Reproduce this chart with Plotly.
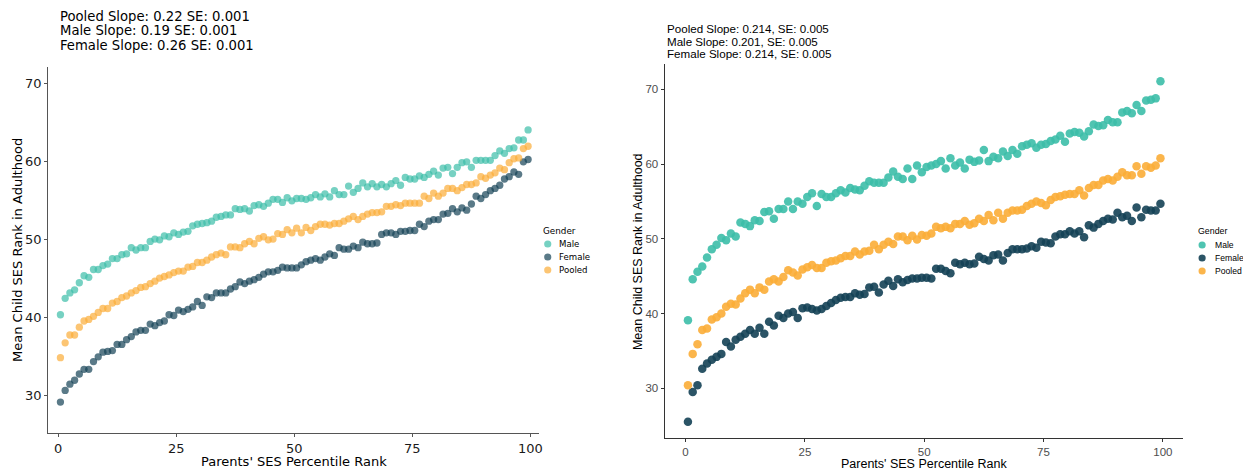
import plotly.graph_objects as go

W, H = 1243, 473


def fx(p):
    return p / W


def fy(p):
    return 1 - p / H


# ---------------- data ----------------
percentile_rank = [r + 0.5 for r in range(100)]

left_male = [
    40.3, 42.4, 43.1, 43.5, 44.4, 45.3, 45.1, 46.1, 46.1, 46.6,
    46.8, 47.5, 47.5, 48.0, 48.1, 48.9, 48.6, 48.9, 48.9, 49.7,
    50.0, 49.9, 50.4, 50.3, 50.8, 50.6, 50.9, 51.0, 51.7, 51.9,
    52.0, 52.1, 52.3, 52.8, 52.9, 53.1, 53.1, 53.9, 53.8, 53.9,
    53.6, 54.3, 54.4, 54.2, 54.6, 55.1, 55.1, 54.7, 55.3, 54.9,
    55.2, 55.2, 55.1, 55.3, 55.7, 55.4, 55.8, 55.4, 56.2, 55.7,
    55.7, 56.8, 56.0, 56.5, 57.2, 56.7, 57.1, 56.7, 57.0, 56.7,
    57.1, 57.5, 56.9, 57.9, 57.7, 57.7, 58.1, 57.9, 58.3, 58.7,
    58.2, 59.1, 59.2, 58.4, 59.2, 59.8, 59.9, 59.2, 60.1, 60.1,
    60.1, 60.1, 60.7, 61.3, 61.0, 61.6, 61.7, 62.7, 62.7, 64.0,
]
left_female = [
    29.1, 30.6, 31.4, 31.9, 32.7, 33.3, 33.3, 34.3, 34.9, 35.5,
    35.6, 35.7, 36.5, 36.5, 37.1, 37.5, 38.1, 38.3, 38.3, 39.1,
    38.9, 39.3, 39.5, 40.3, 40.2, 40.9, 40.7, 41.0, 41.3, 42.0,
    41.5, 42.6, 42.5, 43.1, 43.1, 43.1, 43.6, 43.9, 44.5, 44.3,
    44.6, 44.8, 45.1, 45.5, 45.8, 45.8, 46.0, 46.4, 46.3, 46.3,
    46.3, 46.7, 47.1, 47.3, 47.5, 47.3, 47.7, 48.1, 47.9, 48.9,
    48.7, 48.7, 49.1, 48.9, 49.6, 49.4, 49.4, 49.5, 50.6, 50.8,
    50.8, 50.6, 51.0, 51.0, 51.1, 51.1, 51.9, 51.6, 52.3, 52.5,
    52.5, 53.2, 53.3, 53.9, 53.5, 54.0, 53.7, 54.5, 55.5, 55.2,
    55.7, 56.2, 56.5, 56.9, 57.7, 58.0, 58.6, 58.3, 59.9, 60.2,
]
left_pooled = [
    34.8, 36.7, 37.7, 37.7, 38.7, 39.5, 39.7, 40.1, 40.6, 41.1,
    41.1, 41.8, 42.0, 42.5, 42.7, 43.1, 43.4, 43.8, 43.9, 44.3,
    44.6, 45.0, 45.2, 45.4, 45.7, 45.9, 45.9, 46.4, 46.5, 47.0,
    47.0, 47.3, 47.7, 48.0, 48.2, 48.0, 49.0, 49.0, 48.9, 49.4,
    49.7, 49.4, 50.1, 50.3, 49.9, 50.0, 50.7, 50.6, 51.2, 50.8,
    51.4, 50.8, 51.5, 51.1, 51.6, 51.9, 51.9, 51.8, 52.0, 52.0,
    52.3, 52.6, 52.9, 52.5, 52.9, 53.2, 53.4, 53.4, 53.5, 54.2,
    54.2, 54.4, 54.3, 54.6, 54.6, 54.6, 54.6, 55.5, 55.2, 55.9,
    55.5, 55.9, 56.5, 56.5, 56.2, 56.6, 57.0, 57.0, 57.2, 58.0,
    57.8, 58.2, 58.5, 59.1, 58.9, 59.8, 60.3, 60.4, 61.6, 61.9,
]

right_male = [
    39.1, 44.6, 45.6, 46.3, 47.5, 48.6, 49.2, 50.1, 49.8, 50.7,
    50.3, 52.2, 52.0, 51.7, 52.5, 52.4, 53.6, 53.7, 52.7, 54.0,
    54.0, 55.0, 54.0, 55.0, 54.7, 55.6, 56.1, 54.4, 56.0, 55.6,
    55.6, 56.1, 56.5, 56.2, 56.8, 56.6, 56.5, 57.1, 57.7, 57.5,
    57.5, 57.5, 58.2, 59.0, 58.3, 58.0, 59.4, 58.0, 59.8, 58.9,
    59.6, 59.8, 60.0, 60.4, 59.4, 60.8, 59.8, 60.2, 59.4, 60.6,
    60.3, 60.5, 61.9, 60.4, 61.0, 60.8, 61.7, 61.1, 61.9, 61.4,
    62.4, 62.6, 62.8, 62.2, 62.6, 62.7, 63.1, 63.3, 63.8, 63.0,
    64.1, 64.3, 64.2, 63.7, 64.4, 65.3, 65.1, 65.2, 65.9, 65.6,
    65.6, 66.9, 67.1, 66.8, 67.9, 67.1, 68.5, 68.6, 68.8, 71.1,
]
right_female = [
    25.5, 29.5, 30.4, 32.6, 33.3, 33.8, 34.2, 34.6, 36.2, 35.6,
    36.5, 36.9, 37.3, 37.8, 37.3, 38.1, 37.3, 38.9, 38.4, 39.7,
    39.4, 40.0, 40.2, 39.4, 40.7, 40.8, 40.6, 40.4, 40.6, 41.0,
    41.4, 41.8, 42.1, 42.2, 42.2, 42.7, 42.5, 42.6, 43.5, 43.6,
    42.8, 43.9, 44.4, 43.7, 44.6, 44.2, 44.5, 44.7, 44.7, 44.8,
    44.8, 44.7, 46.0, 46.0, 45.7, 45.4, 46.8, 46.6, 46.8, 46.6,
    46.7, 47.6, 47.3, 47.1, 47.8, 47.9, 47.1, 48.1, 48.6, 48.6,
    48.6, 48.7, 49.0, 48.8, 49.6, 49.5, 49.4, 50.3, 50.6, 50.6,
    51.0, 50.7, 51.0, 50.2, 51.8, 51.5, 52.0, 52.4, 52.7, 52.6,
    53.5, 52.9, 53.1, 52.4, 54.2, 52.9, 53.9, 53.8, 53.8, 54.7,
]
right_pooled = [
    30.4, 34.6, 35.9, 37.8, 38.0, 39.2, 39.5, 40.0, 40.9, 41.3,
    41.2, 42.0, 42.7, 43.2, 42.7, 43.5, 43.2, 44.3, 44.6, 44.3,
    44.9, 45.8, 45.5, 45.1, 45.9, 46.2, 46.5, 46.1, 46.1, 46.8,
    47.0, 47.1, 47.4, 47.7, 47.7, 48.3, 47.9, 48.3, 48.4, 49.2,
    48.6, 49.2, 49.6, 49.3, 50.3, 50.3, 49.8, 50.4, 49.9, 50.5,
    50.4, 50.7, 51.6, 51.4, 51.6, 51.4, 52.0, 52.0, 52.4, 51.9,
    52.1, 52.7, 52.4, 53.2, 52.5, 53.5, 52.7, 53.5, 53.8, 53.8,
    53.9, 54.4, 54.7, 55.0, 54.8, 54.5, 55.2, 55.6, 55.7, 55.9,
    56.0, 56.0, 56.5, 55.8, 56.8, 57.2, 57.2, 57.8, 58.0, 57.8,
    58.3, 58.9, 58.5, 58.5, 59.7, 58.7, 59.7, 59.5, 59.8, 60.8,
]

groups = ["Male", "Female", "Pooled"]
base_rgb = {"Male": (60, 190, 168), "Female": (20, 65, 85), "Pooled": (251, 173, 55)}

left_titles = ["Pooled Slope: 0.22 SE: 0.001",
               "Male Slope: 0.19 SE: 0.001",
               "Female Slope: 0.26 SE: 0.001"]
right_titles = ["Pooled Slope: 0.214, SE: 0.005",
                "Male Slope: 0.201, SE: 0.005",
                "Female Slope: 0.214, SE: 0.005"]

x_title = "Parents' SES Percentile Rank"
y_title = "Mean Child SES Rank in Adulthood"
legend_title = "Gender"
x_ticks = [0, 25, 50, 75, 100]
y_ticks = [30, 40, 50, 60, 70]


def rgba(g, a):
    r, gg, b = base_rgb[g]
    return f"rgba({r},{gg},{b},{a})"


LF = "DejaVu Sans"
RF = "Liberation Sans"

fig = go.Figure()

left_series = {"Male": left_male, "Female": left_female, "Pooled": left_pooled}
right_series = {"Male": right_male, "Female": right_female, "Pooled": right_pooled}

for g in groups:
    fig.add_trace(go.Scatter(
        x=percentile_rank, y=left_series[g], mode="markers", name=g,
        marker=dict(size=7.3, color=rgba(g, 0.7), line=dict(width=0)),
        xaxis="x", yaxis="y", showlegend=False, hoverinfo="x+y+name"))
for g in groups:
    fig.add_trace(go.Scatter(
        x=percentile_rank, y=right_series[g], mode="markers", name=g,
        marker=dict(size=8.5, color=rgba(g, 0.9), line=dict(width=0)),
        xaxis="x2", yaxis="y2", showlegend=False, hoverinfo="x+y+name"))

# panel geometry (pixels)
L = dict(x0=48.3, x1=540.7, y0=66.7, y1=433.3)
R = dict(x0=666.7, x1=1186.7, y0=64.0, y1=438.3)

axis_common = dict(showgrid=False, zeroline=False, showline=True, ticks="outside",
                   mirror=False)

fig.update_layout(
    width=W, height=H, margin=dict(l=0, r=0, t=0, b=0),
    paper_bgcolor="white", plot_bgcolor="white", showlegend=False,
    xaxis=dict(domain=[fx(L["x0"]), fx(L["x1"])], range=[-2.1, 101.8], anchor="y",
               tickvals=x_ticks, linecolor="#555555", linewidth=1, tickcolor="#555555",
               ticklen=3, tickfont=dict(family=LF, size=13, color="#1a1a1a"), **axis_common),
    yaxis=dict(domain=[fy(L["y1"]), fy(L["y0"])], range=[25.1, 72.1], anchor="x",
               tickvals=y_ticks, linecolor="#555555", linewidth=1, tickcolor="#555555",
               ticklen=3, tickfont=dict(family=LF, size=13, color="#1a1a1a"), **axis_common),
    xaxis2=dict(domain=[fx(R["x0"]), fx(R["x1"])], range=[-4.4, 104.2], anchor="y2",
                tickvals=x_ticks, linecolor="#333333", linewidth=1, tickcolor="#333333",
                ticklen=3, tickfont=dict(family=RF, size=11.5, color="#4d4d4d"), **axis_common),
    yaxis2=dict(domain=[fy(R["y1"]), fy(R["y0"])], range=[23.3, 73.4], anchor="x2",
                tickvals=y_ticks, linecolor="#333333", linewidth=1, tickcolor="#333333",
                ticklen=3, tickfont=dict(family=RF, size=11.5, color="#4d4d4d"), **axis_common),
)

annotations = []
shapes = []


def ann(text, x, y, size, family, color="black", xanchor="left", yanchor="middle", angle=0):
    annotations.append(dict(
        text=text, x=fx(x), y=fy(y), xref="paper", yref="paper", showarrow=False,
        xanchor=xanchor, yanchor=yanchor, textangle=angle,
        font=dict(family=family, size=size, color=color)))


# slope titles
for t, yy in zip(left_titles, [16, 31, 46]):
    ann(t, 58, yy, 13.2, LF)
for t, yy in zip(right_titles, [28.3, 41.3, 53.5]):
    ann(t, 666.7, yy, 11.6, RF)

# axis titles
ann(x_title, (L["x0"] + L["x1"]) / 2, 461, 13, LF, xanchor="center")
ann(y_title, 17, (L["y0"] + L["y1"]) / 2, 13, LF, xanchor="center", angle=-90)
ann(x_title, (R["x0"] + R["x1"]) / 2, 464, 12.5, RF, xanchor="center")
ann(y_title, 640, (R["y0"] + R["y1"]) / 2, 12.5, RF, xanchor="center", angle=-90)


# manual legends
def legend(title_x, title_y, dot_x, text_x, ys, family, alpha):
    ann(legend_title, title_x, title_y, 8.8, family)
    for g, yy in zip(groups, ys):
        r = 3.6
        shapes.append(dict(type="circle", xref="paper", yref="paper",
                           x0=fx(dot_x - r), x1=fx(dot_x + r),
                           y0=fy(yy + r), y1=fy(yy - r),
                           fillcolor=rgba(g, alpha), line=dict(width=0)))
        ann(g, text_x, yy, 8.6, family)


legend(542.5, 231, 549.5, 559, [244, 257, 270], LF, 0.7)
legend(1200, 231, 1206, 1216.5, [245, 258, 271], RF, 0.9)

fig.update_layout(annotations=annotations, shapes=shapes)

fig.write_html("out.html")
